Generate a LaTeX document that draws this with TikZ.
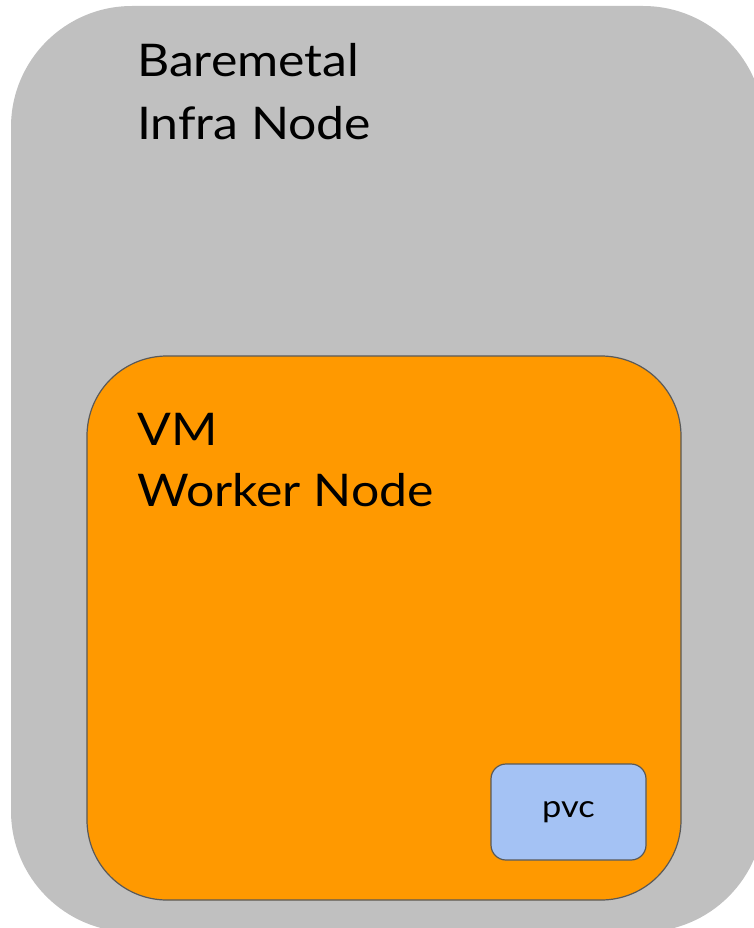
\documentclass[tikz,border=0pt]{standalone}
\usepackage{fontspec}
\setmainfont{Lato}[FakeStretch=1.11]
\definecolor{hostgray}{HTML}{C0C0C0}
\definecolor{vmorange}{HTML}{FF9900}
\definecolor{pvcblue}{HTML}{A4C2F4}
\definecolor{edgegray}{HTML}{595959}
\tikzset{
  label text/.style={inner sep=0pt, anchor=base west, font=\fontsize{45}{54}\selectfont},
  vm box/.style={fill=vmorange, draw=edgegray, line width=1.2pt, rounded corners=80pt},
  pvc box/.style={fill=pvcblue, draw=edgegray, line width=1.2pt, rounded corners=15pt},
}
\begin{document}
\begin{tikzpicture}[x=1pt, y=-1pt]
  \useasboundingbox (0,0) rectangle (754,928);
  \fill[white] (0,0) rectangle (754,928);
  \begin{scope}
    \clip (0,0) rectangle (754,928);
    % bare-metal host
    \fill[hostgray, rounded corners=121pt] (11,6) rectangle (764,932);
  \end{scope}
  \node[label text] (host1) at (137,77) {Baremetal};
  \node[label text] (host2) at (137,140) {Infra Node};
  % virtual machine
  \draw[vm box] (87,356) rectangle (681,900);
  \node[label text] (vm1) at (137,445) {VM};
  \node[label text] (vm2) at (137,506) {Worker Node};
  % persistent volume claim
  \node[pvc box, minimum width=155pt, minimum height=96pt, font=\fontsize{31}{36}\selectfont, inner sep=0pt] (pvc) at (568.5,812) {pvc};
\end{tikzpicture}
\end{document}
